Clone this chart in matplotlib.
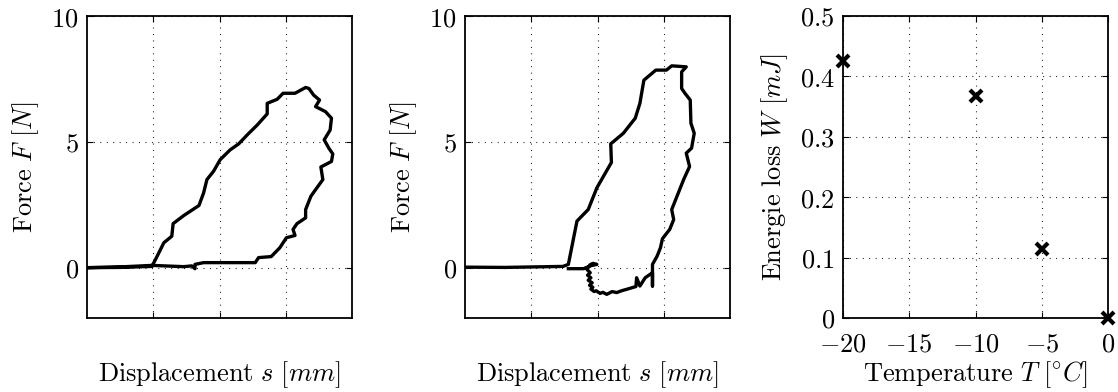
import numpy as np
import matplotlib
matplotlib.use("Agg")
import matplotlib.pyplot as plt

plt.rcParams['mathtext.fontset'] = 'cm'
plt.rcParams['font.family'] = 'serif'
plt.rcParams['font.serif'] = ['DejaVu Serif']

# hysteresis loop, sample 1 (displacement in grid units, force in N)
s1 = [0.00, 0.50, 0.98, 1.06, 1.16, 1.28, 1.30, 1.46, 1.69, 1.76, 1.81, 1.91,
      2.01, 2.16, 2.29, 2.42, 2.57, 2.72, 2.72, 2.87, 2.96, 3.14, 3.30, 3.35,
      3.42, 3.51, 3.45, 3.60, 3.69, 3.67, 3.58, 3.65, 3.71, 3.69, 3.53, 3.56,
      3.45, 3.38, 3.30, 3.30, 3.17, 3.11, 3.14, 3.01, 2.91, 2.78, 2.59, 2.54,
      2.21, 1.76, 1.63, 1.63, 1.58, 1.46, 0.98, 0.50, 0.00]
F1 = [0.00, 0.01, 0.05, 0.46, 0.99, 1.25, 1.75, 2.07, 2.47, 2.97, 3.50, 3.83,
      4.29, 4.68, 4.92, 5.28, 5.67, 6.11, 6.53, 6.69, 6.93, 6.93, 7.16, 7.12,
      6.86, 6.66, 6.40, 6.20, 5.94, 5.47, 5.08, 4.75, 4.52, 4.22, 4.00, 3.50,
      3.10, 2.84, 2.31, 1.98, 1.75, 1.52, 1.28, 1.19, 0.79, 0.44, 0.40, 0.20,
      0.20, 0.20, 0.13, -0.04, 0.07, 0.04, 0.09, 0.03, 0.00]

# hysteresis loop, sample 2
s2 = [0.00, 0.60, 1.48, 1.56, 1.69, 1.86, 1.99, 2.09, 2.21, 2.20, 2.39, 2.57,
      2.64, 2.70, 2.88, 3.04, 3.12, 3.34, 3.27, 3.27, 3.32, 3.40, 3.41, 3.46,
      3.42, 3.34, 3.39, 3.30, 3.22, 3.12, 3.15, 3.09, 2.98, 2.95, 2.90, 2.83,
      2.83, 2.83, 2.72, 2.64, 2.59, 2.58, 2.44, 2.36, 2.29, 2.22, 2.14, 2.08,
      2.04, 1.98, 1.95, 1.90, 1.93, 1.88, 1.92, 1.86, 1.90, 1.85, 1.89, 1.84,
      1.89, 1.93, 1.99, 1.90, 1.79, 1.56]
F2 = [0.02, 0.01, 0.05, 0.13, 1.85, 2.31, 3.17, 3.63, 4.18, 4.92, 5.34, 5.94,
      6.53, 7.45, 7.85, 7.85, 8.02, 7.98, 7.78, 7.12, 6.93, 6.66, 5.74, 5.34,
      4.75, 4.55, 4.02, 3.50, 2.97, 2.31, 1.91, 1.52, 1.15, 0.79, 0.46, 0.13,
      -0.73, -0.20, -0.40, -0.73, -0.40, -0.75, -0.86, -0.92, -0.99, -0.95,
      -1.06, -0.98, -1.02, -0.92, -0.95, -0.85, -0.78, -0.70, -0.60, -0.50,
      -0.40, -0.30, -0.20, -0.07, 0.12, 0.17, 0.13, 0.08, -0.04, -0.04]

# energy loss vs temperature
T = [-20, -10, -5, 0]
W = [0.425, 0.368, 0.115, 0.0]

fig = plt.figure(figsize=(11.18, 3.92), dpi=100)
w, h, b = 265 / 1118, 302 / 392, 74 / 392
lefts = [87 / 1118, 465 / 1118, 843 / 1118]
axes = [fig.add_axes([l, b, w, h]) for l in lefts]

fs = 19


def style(ax):
    for sp in ax.spines.values():
        sp.set_linewidth(1.3)
    ax.tick_params(direction='in', top=True, right=True, length=4, width=0.8,
                   labelsize=fs)
    ax.tick_params(axis='y', pad=6)
    ax.tick_params(axis='x', pad=10)
    ax.grid(True, color='black', linestyle=(0, (0.8, 5)), linewidth=0.8)
    ax.set_axisbelow(False)


for ax, s, F in [(axes[0], s1, F1), (axes[1], s2, F2)]:
    ax.plot(s, F, color='black', linewidth=2.4, solid_joinstyle='round')
    ax.set_xlim(0, 4)
    ax.set_ylim(-2, 10)
    ax.set_xticks([1, 2, 3])
    ax.set_xticklabels([])
    ax.set_yticks([0, 5, 10])
    ax.set_yticklabels(['$0$', '$5$', '$10$'])
    style(ax)
    ax.set_xlabel(r'$\mathrm{Displacement}\ s\ [mm]$', fontsize=fs)
    ax.set_ylabel(r'$\mathrm{Force}\ F\ [N]$', fontsize=fs)
    ax.xaxis.set_label_coords(0.5, -0.135)
    ax.yaxis.set_label_coords(-0.175, 0.5)

ax = axes[2]
ax.plot(T, W, linestyle='none', marker='x', color='black', markersize=9,
        markeredgewidth=3, clip_on=False, zorder=5)
ax.set_xlim(-20, 0)
ax.set_ylim(0, 0.5)
ax.set_xticks([-20, -15, -10, -5, 0])
ax.set_xticklabels(['$-20$', '$-15$', '$-10$', '$-5$', '$0$'])
ax.set_yticks([0, 0.1, 0.2, 0.3, 0.4, 0.5])
ax.set_yticklabels(['$0$', '$0.1$', '$0.2$', '$0.3$', '$0.4$', '$0.5$'])
style(ax)
ax.set_xlabel(r'$\mathrm{Temperature}\ T\ [^{\circ}C]$', fontsize=fs)
ax.set_ylabel(r'$\mathrm{Energie\ loss}\ W\ [mJ]$', fontsize=fs)
ax.xaxis.set_label_coords(0.5, -0.135)
ax.yaxis.set_label_coords(-0.20, 0.5)

fig.savefig('out.png', dpi=100)
